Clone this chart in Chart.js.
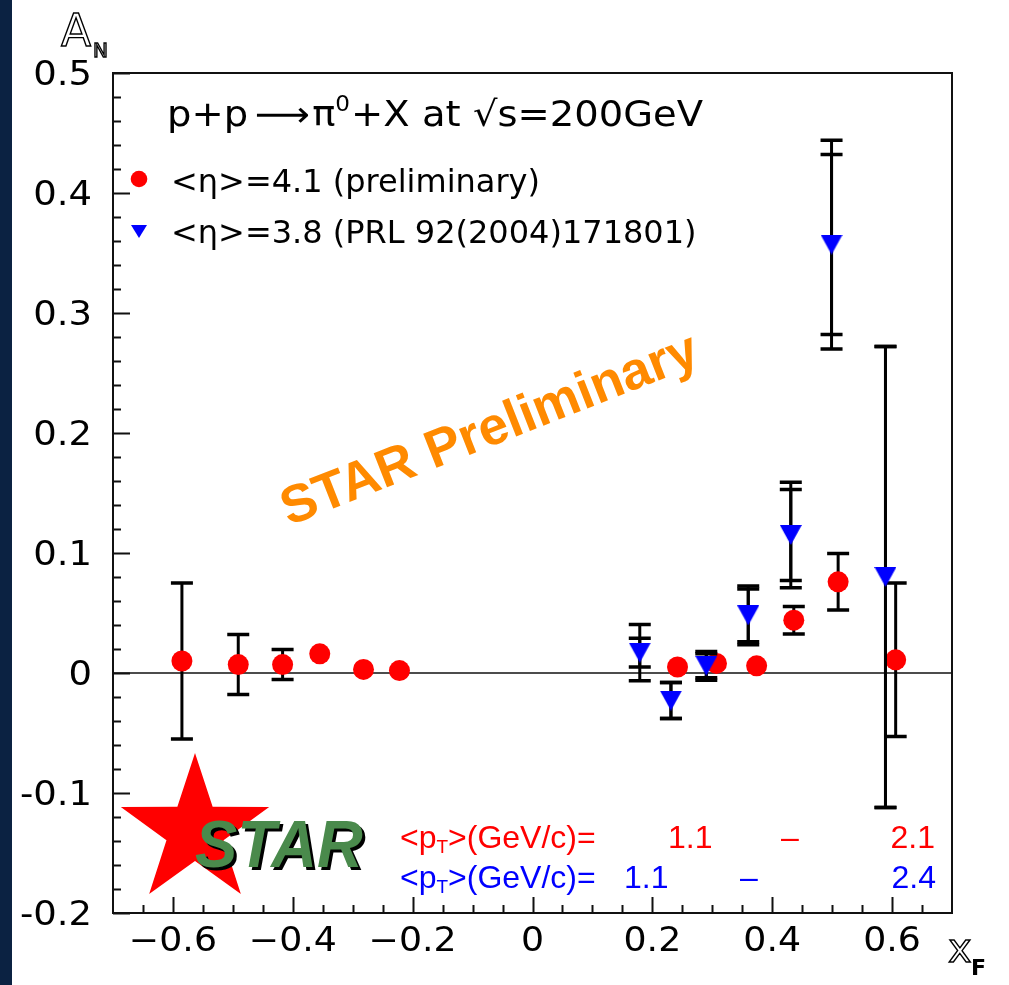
<!DOCTYPE html>
<html>
<head>
<meta charset="utf-8">
<title>A_N vs x_F</title>
<script src="https://cdn.jsdelivr.net/npm/chart.js@4.4.1/dist/chart.umd.min.js"></script>
<style>
  body { margin: 0; background: #ffffff; }
  #box { width: 1009px; height: 985px; }
</style>
</head>
<body>
<div id="box"><canvas id="anChart" width="1009" height="985"></canvas></div>
<script>
// axis tick labels
const xTickValues = [-0.6, -0.4, -0.2, 0, 0.2, 0.4, 0.6];
const xTickLabels = ["\u22120.6", "\u22120.4", "\u22120.2", "0", "0.2", "0.4", "0.6"];
const yTickValues = [-0.2, -0.1, 0, 0.1, 0.2, 0.3, 0.4, 0.5];
const yTickLabels = ["-0.2", "-0.1", "0", "0.1", "0.2", "0.3", "0.4", "0.5"];

// <eta>=4.1, preliminary
const prelimXF  = [-0.585, -0.491, -0.417, -0.355, -0.282, -0.222, 0.242, 0.307, 0.374, 0.436, 0.510, 0.606];
const prelimAN  = [0.010, 0.007, 0.007, 0.016, 0.003, 0.002, 0.005, 0.008, 0.006, 0.044, 0.076, 0.011];
const prelimErr = [0.065, 0.025, 0.0125, 0.005, 0.003, 0.003, 0.006, 0.006, 0.005, 0.0115, 0.0235, 0.064];

// <eta>=3.8, PRL 92(2004)171801
const prlXF    = [0.179, 0.231, 0.290, 0.360, 0.431, 0.499, 0.589];
const prlAN    = [0.017, -0.023, 0.006, 0.048, 0.115, 0.357, 0.080];
const prlStat  = [0.012, 0.015, 0.010, 0.022, 0.038, 0.075, 0.192];
const prlTotal = [0.0235, 0.015, 0.012, 0.0245, 0.044, 0.087, 0.192];

const FONT = '"DejaVu Sans", sans-serif';
const ARIAL = '"Liberation Sans", Arial, sans-serif';

function downTriangle(w, h, color) {
    const c = document.createElement("canvas");
    c.width = w;
    c.height = h;
    const g = c.getContext("2d");
    g.fillStyle = color;
    g.beginPath();
    g.moveTo(0, 0);
    g.lineTo(w, 0);
    g.lineTo(w / 2, h);
    g.closePath();
    g.fill();
    return c;
}

function toPoints(xs, ys) {
    return xs.map((x, i) => ({ x: x, y: ys[i] }));
}

function stretchText(ctx, text, px, py, sx) {
    ctx.save();
    ctx.translate(px, py);
    ctx.scale(sx, 1);
    ctx.fillText(text, 0, 0);
    ctx.restore();
}

// white page, navy strip on the left
const background = {
    id: "background",
    beforeDraw(chart) {
        const ctx = chart.ctx;
        ctx.save();
        ctx.fillStyle = "#ffffff";
        ctx.fillRect(0, 0, chart.width, chart.height);
        ctx.fillStyle = "#0b2242";
        ctx.fillRect(0, 0, 12, chart.height);
        ctx.restore();
    }
};

// frame, inward ticks and the zero line
const frame = {
    id: "frame",
    beforeDatasetsDraw(chart) {
        const { ctx, chartArea: a } = chart;
        const xs = chart.scales.x, ys = chart.scales.y;
        ctx.save();
        ctx.strokeStyle = "#111";

        ctx.lineWidth = 1.5;
        const y0 = ys.getPixelForValue(0);
        ctx.beginPath();
        ctx.moveTo(a.left, y0);
        ctx.lineTo(a.right, y0);
        ctx.stroke();

        ctx.lineWidth = 2;
        ctx.beginPath();
        // y: major every 0.1, minor every 0.02
        for (let k = -10; k <= 25; k++) {
            const py = Math.round(ys.getPixelForValue(k * 0.02)) + 0.5;
            const len = k % 5 === 0 ? 17 : 8;
            ctx.moveTo(a.left, py);
            ctx.lineTo(a.left + len, py);
        }
        // x: major every 0.2, minor every 0.05
        for (let k = -13; k <= 13; k++) {
            const px = Math.round(xs.getPixelForValue(k * 0.05)) + 0.5;
            const len = k % 4 === 0 ? 16 : 8;
            ctx.moveTo(px, a.bottom);
            ctx.lineTo(px, a.bottom - len);
        }
        ctx.stroke();

        ctx.strokeRect(a.left, a.top, a.right - a.left, a.bottom - a.top);
        ctx.restore();
    }
};

// vertical error bars with caps, drawn under each dataset's markers
const errorBars = {
    id: "errorBars",
    beforeDatasetDraw(chart, args) {
        const ds = chart.data.datasets[args.index];
        const xs = chart.scales.x, ys = chart.scales.y;
        const ctx = chart.ctx;
        ctx.save();
        ctx.strokeStyle = "#000";
        ds.data.forEach((p, i) => {
            const px = xs.getPixelForValue(p.x);
            const py = ys.getPixelForValue(p.y);
            ds.errorSets.forEach(errs => {
                const top = ys.getPixelForValue(p.y + errs[i]);
                const bottom = ys.getPixelForValue(p.y - errs[i]);
                if (py - top <= ds.markerHalf) return;
                ctx.lineWidth = 3;
                ctx.beginPath();
                ctx.moveTo(px, top);
                ctx.lineTo(px, bottom);
                ctx.stroke();
                ctx.lineWidth = 3.5;
                ctx.beginPath();
                ctx.moveTo(px - 11, top);
                ctx.lineTo(px + 11, top);
                ctx.moveTo(px - 11, bottom);
                ctx.lineTo(px + 11, bottom);
                ctx.stroke();
            });
        });
        ctx.restore();
    }
};

// labels, legend, titles and the STAR marks
const annotations = {
    id: "annotations",
    afterDraw(chart) {
        const ctx = chart.ctx;
        const xs = chart.scales.x, ys = chart.scales.y;
        ctx.save();
        ctx.fillStyle = "#000";
        ctx.textBaseline = "alphabetic";

        ctx.font = `33px ${FONT}`;
        ctx.textAlign = "right";
        yTickValues.forEach((v, i) => {
            stretchText(ctx, yTickLabels[i], 92, ys.getPixelForValue(v) + 12, 1.12);
        });
        ctx.textAlign = "center";
        xTickValues.forEach((v, i) => {
            stretchText(ctx, xTickLabels[i], xs.getPixelForValue(v), 951, 1.1);
        });

        // axis titles, outlined glyphs
        ctx.textAlign = "left";
        ctx.strokeStyle = "#000";
        ctx.lineWidth = 1.4;
        ctx.font = `44px ${FONT}`;
        ctx.strokeText("A", 61, 46);
        ctx.font = `20px ${FONT}`;
        ctx.strokeText("N", 93, 57);
        ctx.font = `40px ${FONT}`;
        ctx.strokeText("x", 948, 962);
        ctx.font = `bold 22px ${FONT}`;
        ctx.fillText("F", 971, 975);

        // title, stretched a little wider
        ctx.save();
        ctx.translate(167, 126);
        ctx.scale(1.1, 1);
        let tx = 0;
        ctx.font = `35px ${FONT}`;
        ctx.fillText("p+p", tx, 0);
        tx += ctx.measureText("p+p").width + 6;
        ctx.fillText("\u27F6", tx, 0);
        tx += ctx.measureText("\u27F6").width + 2;
        ctx.fillText("\u03C0", tx, 0);
        tx += ctx.measureText("\u03C0").width;
        ctx.font = `21px ${FONT}`;
        ctx.fillText("0", tx, -15);
        tx += ctx.measureText("0").width + 1;
        ctx.font = `35px ${FONT}`;
        ctx.fillText("+X at \u221As=200GeV", tx, 0);
        ctx.restore();

        // legend
        ctx.fillStyle = "#ff0000";
        ctx.beginPath();
        ctx.arc(139, 179, 8.3, 0, Math.PI * 2);
        ctx.fill();
        ctx.fillStyle = "#0000ff";
        ctx.beginPath();
        ctx.moveTo(131, 225);
        ctx.lineTo(147, 225);
        ctx.lineTo(139, 238);
        ctx.closePath();
        ctx.fill();
        ctx.fillStyle = "#000";
        ctx.font = `32px ${FONT}`;
        ctx.fillText("<\u03B7>=4.1 (preliminary)", 171, 192);
        ctx.fillText("<\u03B7>=3.8 (PRL 92(2004)171801)", 171, 243);

        // STAR Preliminary
        ctx.save();
        ctx.translate(490, 431);
        ctx.rotate(-21.5 * Math.PI / 180);
        ctx.font = `bold 53px ${ARIAL}`;
        ctx.textAlign = "center";
        ctx.textBaseline = "middle";
        ctx.fillStyle = "#ff8a00";
        ctx.fillText("STAR Preliminary", 0, 0);
        ctx.restore();

        // STAR logo: red star with green lettering
        const cx = 195, cy = 831, R = 78, r = 30;
        ctx.fillStyle = "#ff0000";
        ctx.beginPath();
        for (let k = 0; k < 10; k++) {
            const ang = -Math.PI / 2 + k * Math.PI / 5;
            const rad = k % 2 === 0 ? R : r;
            const px = cx + rad * Math.cos(ang), py = cy + rad * Math.sin(ang);
            if (k === 0) ctx.moveTo(px, py); else ctx.lineTo(px, py);
        }
        ctx.closePath();
        ctx.fill();
        ctx.font = `italic bold 66px ${ARIAL}`;
        ctx.fillStyle = "#000";
        stretchText(ctx, "STAR", 198, 870, 0.96);
        ctx.fillStyle = "#4a8a4c";
        stretchText(ctx, "STAR", 195, 867, 0.96);

        // mean pT ranges
        const rows = [
            { color: "#ff0000", y: 848, lo: 668, dash: 781, hi: 935, hiText: "2.1" },
            { color: "#0000ff", y: 888, lo: 624, dash: 740, hi: 936, hiText: "2.4" }
        ];
        rows.forEach(row => {
            ctx.font = `32px ${ARIAL}`;
            ctx.fillStyle = row.color;
            ctx.textAlign = "left";
            let px = 400;
            ctx.fillText("<p", px, row.y);
            px += ctx.measureText("<p").width;
            ctx.font = `19px ${ARIAL}`;
            ctx.fillText("T", px, row.y + 5);
            px += ctx.measureText("T").width;
            ctx.font = `32px ${ARIAL}`;
            ctx.fillText(">(GeV/c)=", px, row.y);
            ctx.fillText("1.1", row.lo, row.y);
            ctx.fillText("\u2013", row.dash, row.y);
            ctx.textAlign = "right";
            ctx.fillText(row.hiText, row.hi, row.y);
        });
        ctx.restore();
    }
};

const chart = new Chart(document.getElementById("anChart"), {
    type: "scatter",
    data: {
        datasets: [
            {
                label: "<\u03B7>=3.8 (PRL 92(2004)171801)",
                data: toPoints(prlXF, prlAN),
                errorSets: [prlTotal, prlStat],
                markerHalf: 10,
                pointStyle: downTriangle(22, 20, "#0000ff"),
                order: 0
            },
            {
                label: "<\u03B7>=4.1 (preliminary)",
                data: toPoints(prelimXF, prelimAN),
                errorSets: [prelimErr],
                markerHalf: 10.5,
                pointStyle: "circle",
                pointRadius: 10.5,
                pointBackgroundColor: "#ff0000",
                pointBorderWidth: 0,
                order: 1
            }
        ]
    },
    options: {
        responsive: false,
        devicePixelRatio: 1,
        animation: false,
        layout: {
            padding: { left: 113, right: 57, top: 73, bottom: 72 }
        },
        scales: {
            x: { type: "linear", min: -0.7, max: 0.7, display: false },
            y: { type: "linear", min: -0.2, max: 0.5, display: false }
        },
        plugins: {
            legend: { display: false },
            tooltip: { enabled: false }
        }
    },
    plugins: [background, frame, errorBars, annotations]
});
</script>
</body>
</html>
